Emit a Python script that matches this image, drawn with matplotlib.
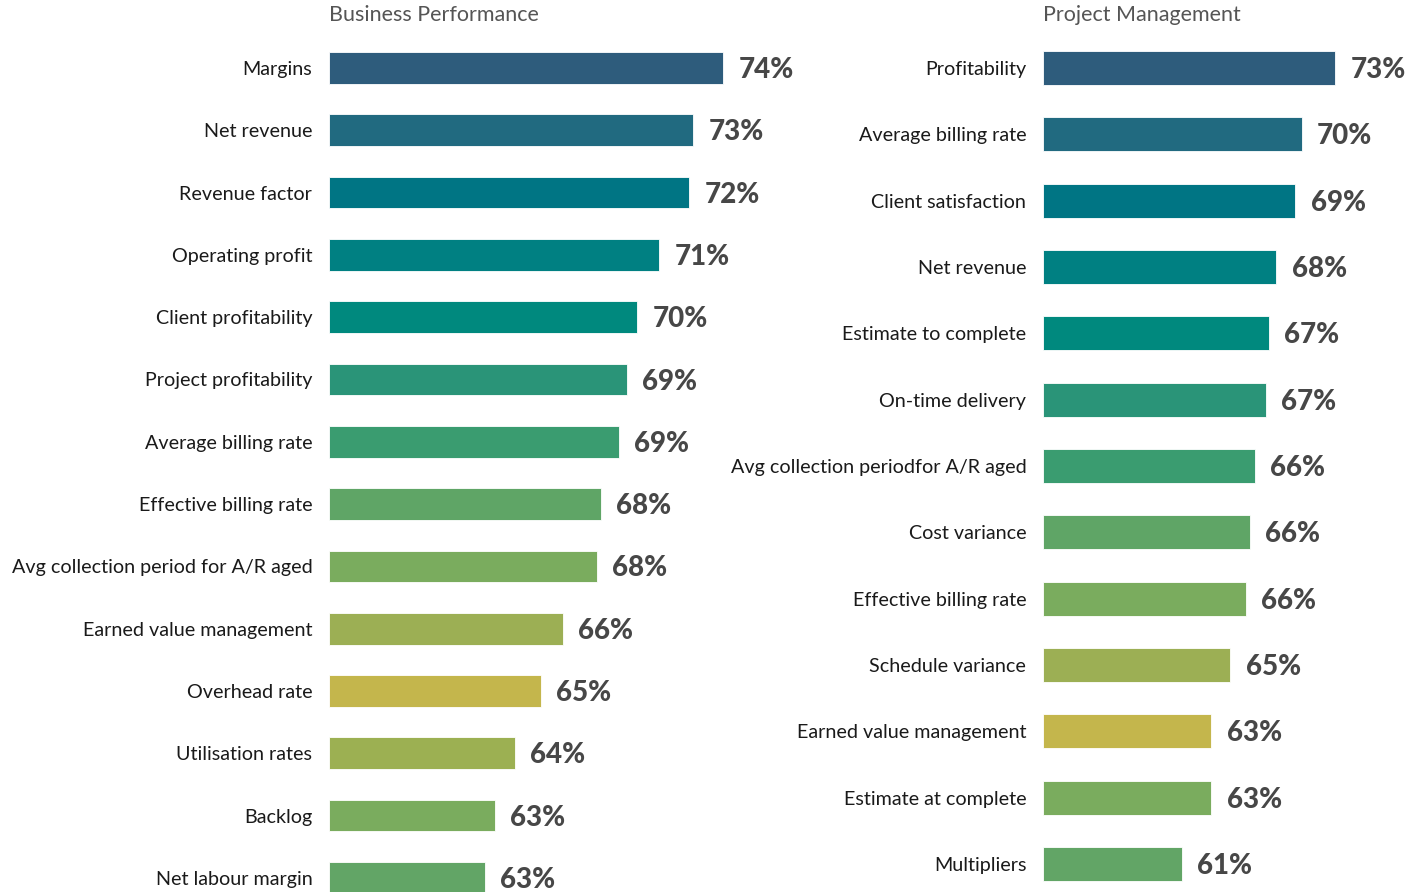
import numpy as np
import matplotlib.pyplot as plt

# ---------------- Data ------------------------
bp_labels = ["Margins", "Net revenue", "Revenue factor", "Operating profit",
             "Client profitability", "Project profitability", "Average billing rate",
             "Effective billing rate", "Avg collection period for A/R aged",
             "Earned value management", "Overhead rate", "Utilisation rates",
             "Backlog", "Net labour margin"]
bp_values = [74.7, 73.2, 73.0, 71.5, 70.4, 69.9, 69.5, 68.6, 68.4, 66.7, 65.6, 64.3, 63.3, 62.8]
bp_text = ["74%", "73%", "72%", "71%", "70%", "69%", "69%", "68%", "68%", "66%", "65%", "64%", "63%", "63%"]

pm_labels = ["Profitability", "Average billing rate", "Client satisfaction", "Net revenue",
             "Estimate to complete", "On-time delivery", "Avg collection periodfor A/R aged",
             "Cost variance", "Effective billing rate", "Schedule variance",
             "Earned value management", "Estimate at complete", "Multipliers"]
pm_values = [72.9, 70.3, 69.8, 68.3, 67.7, 67.5, 66.6, 66.2, 65.9, 64.7, 63.2, 63.2, 60.9]
pm_text = ["73%", "70%", "69%", "68%", "67%", "67%", "66%", "66%", "66%", "65%", "63%", "63%", "61%"]

bp_colors = ["#2e5c7c", "#216a80", "#007584", "#008082", "#00897e", "#2a9478", "#3a9c70",
             "#5fa566", "#7aac5e", "#9caf54", "#c4b64c", "#9cb052", "#7aac5e", "#62a566"]
pm_colors = ["#2e5c7c", "#216a80", "#007584", "#008082", "#00897e", "#2a9478", "#3a9c70",
             "#5fa566", "#7aac5e", "#9caf54", "#c4b64c", "#7aac5e", "#62a566"]

plt.rcParams['font.family'] = ['Lato', 'DejaVu Sans']

W, H = 1427, 892
fig = plt.figure(figsize=(W / 100, H / 100), dpi=100)
fig.patch.set_facecolor("white")


def panel(x0, width, xlim, y0, step, labels, values, texts, colors, title):
    ax = fig.add_axes([x0 / W, 0, width / W, 1])
    n = len(labels)
    y = np.arange(n)
    ax.barh(y, [v - xlim[0] for v in values], left=xlim[0], height=0.51,
            color=colors, edgecolor="#ffffff", linewidth=0.6)
    ax.set_xlim(*xlim)
    ax.set_ylim((H - y0) / step, -y0 / step)
    ax.set_yticks(y)
    ax.set_yticklabels(labels, fontsize=14.2, color="#1a1a1a")
    ax.tick_params(axis="y", length=0, pad=12)
    ax.set_xticks([])
    for s in ax.spines.values():
        s.set_visible(False)
    for yi, v, t in zip(y, values, texts):
        ax.annotate(t, (v, yi), xytext=(11, -1.5), textcoords="offset points",
                    va="center", ha="left", fontsize=20, fontweight="black",
                    color="#474747")
    fig.text(x0 / W, 1 - 15 / H, title, ha="left", va="center",
             fontsize=15.5, color="#555555")
    return ax


panel(329, 500, (55, 80), 68, 62.3, bp_labels, bp_values, bp_text, bp_colors,
      "Business Performance")
panel(1043, 382.5, (50, 80), 68, 66.33, pm_labels, pm_values, pm_text, pm_colors,
      "Project Management")

fig.savefig("out.png", dpi=100, facecolor="white")
